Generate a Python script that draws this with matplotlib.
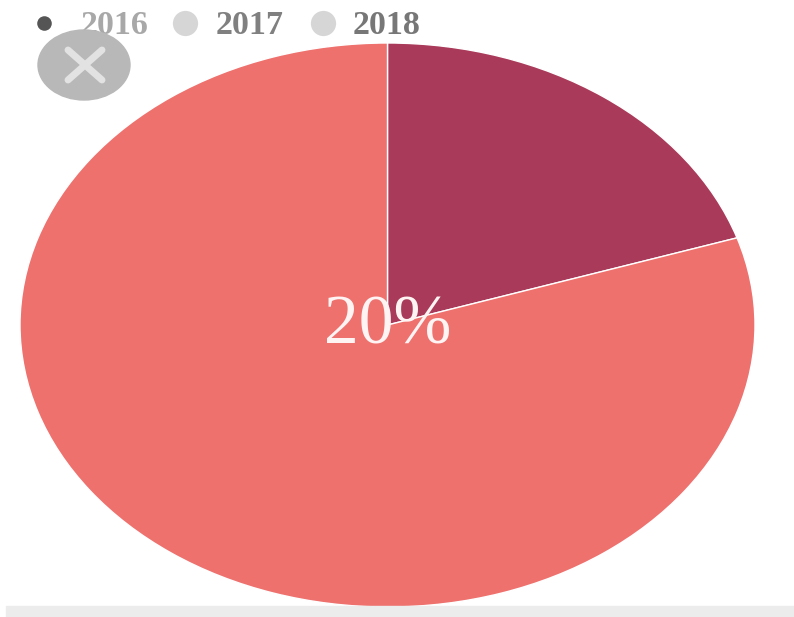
import matplotlib
matplotlib.use("Agg")
import matplotlib.pyplot as plt
from matplotlib.patches import Ellipse, Rectangle

labels = ["2016", "other"]
values = [20, 80]
colors = ["#A93A5A", "#EE716E"]
legend_labels = ["2016", "2017", "2018"]
legend_marker_colors = ["#555555", "#d6d6d6", "#d6d6d6"]
legend_text_colors = ["#a8a8a8", "#808080", "#777777"]
center_label = "20%"

W, H = 794, 617
fig = plt.figure(figsize=(W / 100, H / 100), dpi=100)
fig.patch.set_facecolor("white")

# pie axes (elliptical pie)
left, right, top, bottom = 20, 755, 43, 607
ax = fig.add_axes([left / W, (H - bottom) / H, (right - left) / W, (bottom - top) / H])
ax.pie(values, colors=colors, startangle=90, counterclock=False,
       wedgeprops=dict(linewidth=1, edgecolor="white"))
ax.set_aspect("auto")
ax.set_xlim(-1, 1)
ax.set_ylim(-1, 1)
ax.axis("off")

# overlay in pixel coords
ov = fig.add_axes([0, 0, 1, 1], facecolor="none")
ov.set_xlim(0, W)
ov.set_ylim(H, 0)
ov.axis("off")

ov.text(388, 327, center_label, ha="center", va="center", color="#fff4f4",
        fontsize=50, family=["Liberation Serif", "DejaVu Serif"])

# legend
marker_x = [44, 185, 323]
text_x = [81, 216, 353]
sizes = [110, 330, 330]
for mx, tx, lab, mc, tc, s in zip(marker_x, text_x, legend_labels,
                                  legend_marker_colors, legend_text_colors, sizes):
    ov.scatter([mx], [23], s=s, color=mc, zorder=5, linewidths=0)
    ov.text(tx, 25, lab, ha="left", va="center", fontsize=24.5, color=tc,
            fontweight="bold", family=["Liberation Serif", "DejaVu Serif"])

# gray close button
ov.add_patch(Ellipse((84, 65), 92, 70, color="#b8b8b8", zorder=4))
ov.plot([68, 102], [50, 80], color="#e2e2e2", lw=5, zorder=5, solid_capstyle="round")
ov.plot([68, 102], [80, 50], color="#e2e2e2", lw=5, zorder=5, solid_capstyle="round")

# bottom gray strip
ov.add_patch(Rectangle((6, 606), W - 6, 11, color="#ececec", zorder=1))

fig.savefig("out.png", dpi=100)
